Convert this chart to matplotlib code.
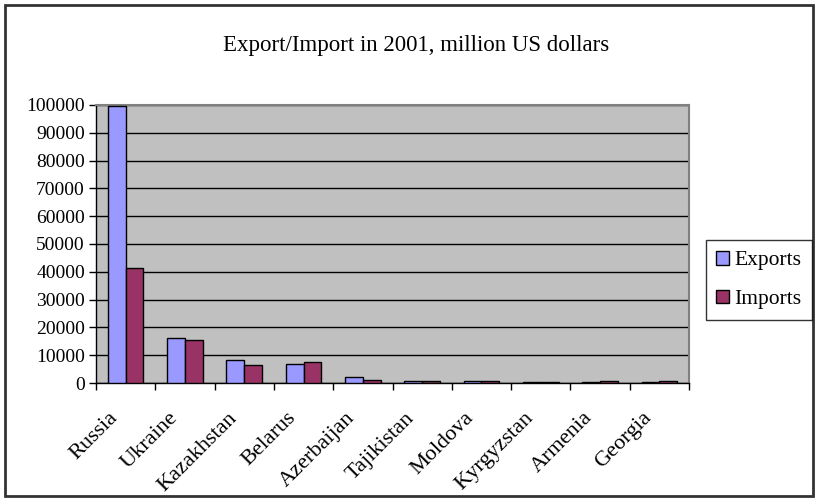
import matplotlib.pyplot as plt
import matplotlib.patches as patches
from matplotlib.transforms import ScaledTranslation
import numpy as np

countries = ['Russia', 'Ukraine', 'Kazakhstan', 'Belarus', 'Azerbaijan',
             'Tajikistan', 'Moldova', 'Kyrgyzstan', 'Armenia', 'Georgia']
exports = [99800, 16300, 8300, 6900, 2100, 650, 570, 480, 340, 320]
imports = [41200, 15300, 6300, 7400, 1000, 690, 880, 470, 870, 680]
yticks = list(range(0, 100001, 10000))

plt.rcParams['font.family'] = ['Liberation Serif', 'DejaVu Serif']

fig = plt.figure(figsize=(8.18, 4.99), dpi=100)
ax = fig.add_axes([96/818, 1 - 383/499, (689 - 96)/818, (383 - 105)/499])

x = np.arange(len(countries))
w = 0.3
ax.bar(x - w/2, exports, w, color='#9999FF', edgecolor='black', linewidth=1, label='Exports', zorder=3)
ax.bar(x + w/2, imports, w, color='#993366', edgecolor='black', linewidth=1, label='Imports', zorder=3)

ax.set_facecolor('#C0C0C0')
ax.set_xlim(-0.5, len(countries) - 0.5)
ax.set_ylim(0, 100000)
ax.set_yticks(yticks)
ax.set_yticklabels([str(v) for v in yticks], fontsize=14)
ax.yaxis.grid(True, color='black', linewidth=1, zorder=1)

ax.set_xticks(x)
ax.set_xticklabels(countries, rotation=45, ha='right', rotation_mode='anchor', fontsize=16)
ax.tick_params(axis='x', length=0, pad=9)
ax.set_xticks(np.arange(-0.5, len(countries)), minor=True)
ax.tick_params(axis='x', which='minor', length=5, direction='out', width=1)
ax.tick_params(axis='y', length=5, direction='out', width=1, pad=3)

# Excel-style placement: label ends a bit left of and further below the category centre
shift = ScaledTranslation(-17/100, -13/100, fig.dpi_scale_trans)
for lbl in ax.get_xticklabels():
    lbl.set_transform(lbl.get_transform() + shift)

for s in ['top', 'right']:
    ax.spines[s].set_color('#808080')
    ax.spines[s].set_linewidth(1.5)
for s in ['left', 'bottom']:
    ax.spines[s].set_color('black')
    ax.spines[s].set_linewidth(1)

fig.text(0.509, 1 - 45/499, 'Export/Import in 2001, million US dollars', ha='center', va='center', fontsize=16.5)

leg = fig.legend(loc='center', bbox_to_anchor=(759/818, 1 - 280/499), fontsize=15.5,
                 frameon=True, fancybox=False, edgecolor='black', handlelength=0.6,
                 handleheight=0.6, handletextpad=0.25, borderpad=0.5, labelspacing=0.9,
                 borderaxespad=0)
leg.get_frame().set_linewidth(1)

fig.patches.append(patches.Rectangle((5/818, 3/499), 808/818, 491/499, transform=fig.transFigure,
                                     fill=False, edgecolor='#333333', linewidth=2))

fig.savefig('out.png', dpi=100)
